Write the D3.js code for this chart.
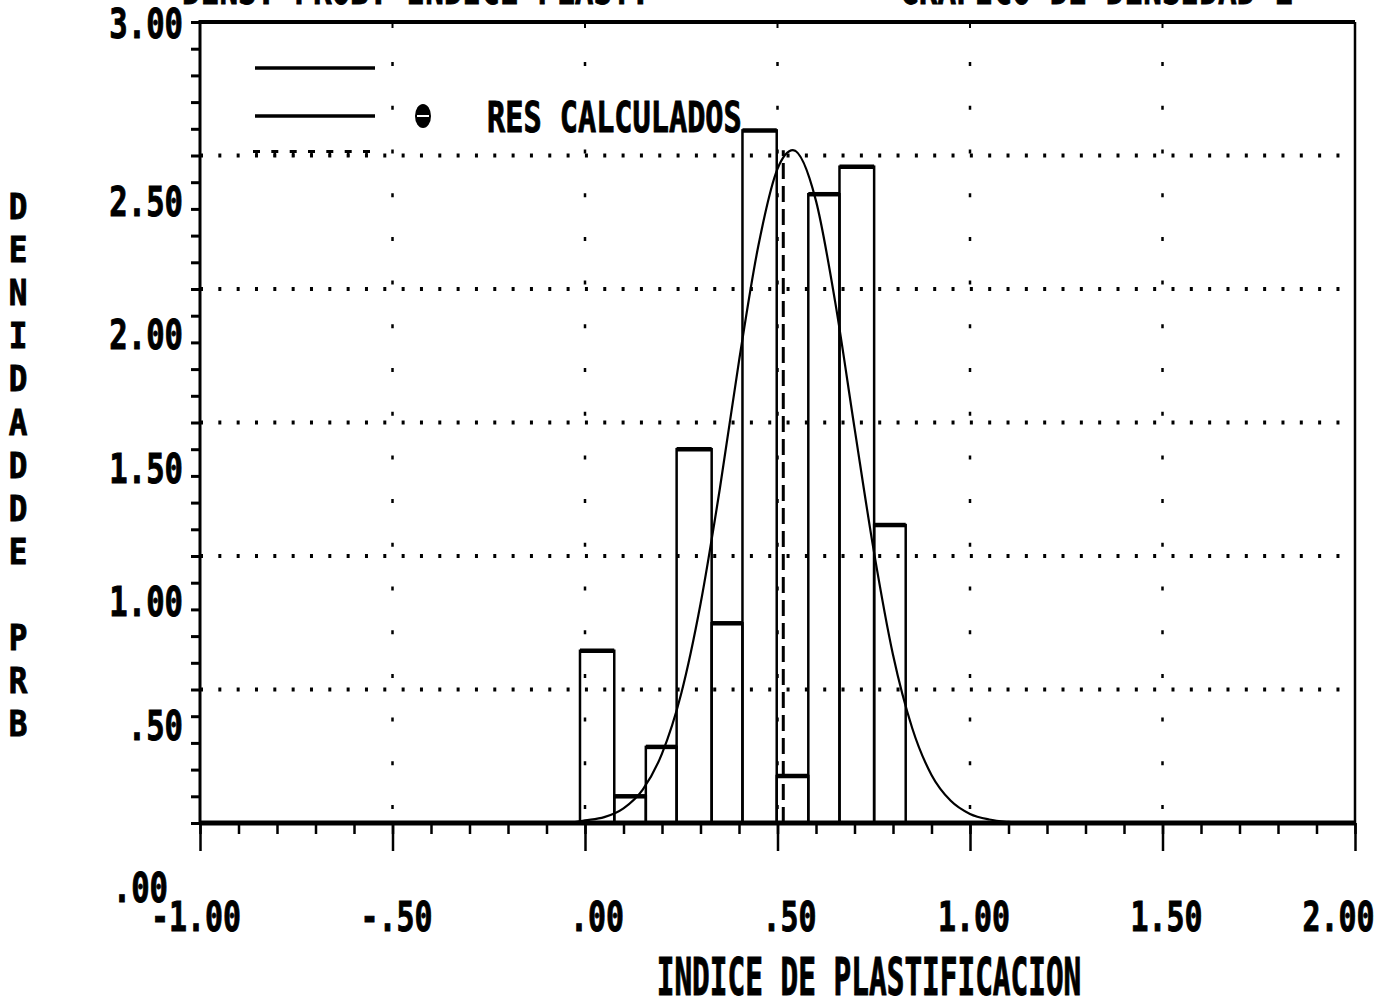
<!DOCTYPE html>
<html><head><meta charset="utf-8">
<script src="https://cdn.jsdelivr.net/npm/d3@7"></script>
<style>html,body{margin:0;padding:0;background:#fff;overflow:hidden}</style>
</head><body><svg id="chart" width="1384" height="1008"></svg>
<script>
// ---------- data ----------
const binEdges = [-0.013, 0.076, 0.158, 0.238, 0.329, 0.409, 0.498, 0.580, 0.661, 0.751, 0.833];
const binValues = [0.645, 0.10, 0.285, 1.40, 0.748, 2.594, 0.176, 2.355, 2.458, 1.116];
const curveX = [-1.00, -0.05, 0.00, 0.05, 0.10, 0.15, 0.20, 0.25, 0.30, 0.35, 0.40, 0.45, 0.50, 0.54, 0.60, 0.65, 0.70, 0.75, 0.80, 0.85, 0.90, 0.95, 1.00, 1.05, 1.10, 1.15, 2.00];
const curveY = [0.000, 0.000, 0.010, 0.022, 0.055, 0.125, 0.260, 0.485, 0.820, 1.250, 1.730, 2.160, 2.450, 2.520, 2.330, 1.950, 1.480, 1.020, 0.630, 0.355, 0.180, 0.083, 0.034, 0.013, 0.004, 0.000, 0.000];
const meanValue = 0.515;
const peakValue = 2.52;
const xTickValues = [-1, -0.5, 0, 0.5, 1, 1.5, 2];
const xTickLabels = ["-1.00", "-.50", ".00", ".50", "1.00", "1.50", "2.00"];
const yTickValues = [0, 0.5, 1, 1.5, 2, 2.5, 3];
const yTickLabels = [".00", ".50", "1.00", "1.50", "2.00", "2.50", "3.00"];
const xGridValues = [-0.5, 0, 0.5, 1, 1.5];
const yGridValues = [0.5, 1, 1.5, 2, 2.5];
const xTitle = "INDICE DE PLASTIFICACION";
const yTitleLetters = ["D","E","N","I","D","A","D","D","E"," ","P","R","B"];
const legendLabels = ["", "RES CALCULADOS", ""];
const topTitleParts = ["DENS. PROB. INDICE PLAST.", "GRAFICO DE DENSIDAD 1"];

// ---------- setup ----------
const svg = d3.select("#chart");
const x = d3.scaleLinear().domain([-1, 2]).range([200, 1355]);
const y = d3.scaleLinear().domain([0, 3]).range([823, 22]);
const FONT = "'DejaVu Sans Mono', monospace";

function label(g, str, px, py, o) {
  return g.append("text")
    .attr("transform", `translate(${px},${py}) scale(${o.sx},${o.sy || 1})`)
    .attr("text-anchor", o.anchor || "middle")
    .attr("font-family", FONT).attr("font-weight", "bold")
    .attr("font-size", o.size).attr("fill", "#000")
    .attr("stroke", "#000").attr("stroke-width", o.sw == null ? 0.8 : o.sw)
    .text(str);
}

const g = svg.append("g");

// ---------- top (clipped) title ----------
label(g, topTitleParts[0], 182, 4, {size: 42, sx: 0.74, anchor: "start"});
label(g, topTitleParts[1], 900, 4, {size: 42, sx: 0.74, anchor: "start"});

// ---------- grid ----------
const grid = g.append("g");
grid.selectAll("line.hg").data(yGridValues).join("line").attr("class", "hg")
  .attr("x1", x(-1)).attr("x2", x(2)).attr("y1", d => y(d)).attr("y2", d => y(d))
  .attr("stroke", "#000").attr("stroke-width", 4).attr("stroke-dasharray", "3,15.33");
grid.selectAll("line.vg").data(xGridValues).join("line").attr("class", "vg")
  .attr("x1", d => x(d)).attr("x2", d => x(d)).attr("y1", y(0)).attr("y2", y(3))
  .attr("stroke", "#000").attr("stroke-width", 2.5)
  .attr("stroke-dasharray", "4,39.7").attr("stroke-dashoffset", -14);

// ---------- histogram bars ----------
const bars = g.append("g");
const binData = binValues.map((v, i) => ({x0: binEdges[i], x1: binEdges[i + 1], v}));
bars.selectAll("rect").data(binData).join("rect")
  .attr("x", d => x(d.x0)).attr("width", d => x(d.x1) - x(d.x0))
  .attr("y", d => y(d.v)).attr("height", d => y(0) - y(d.v))
  .attr("fill", "none").attr("stroke", "#000").attr("stroke-width", 2.5);
bars.selectAll("line.top").data(binData).join("line").attr("class", "top")
  .attr("x1", d => x(d.x0)).attr("x2", d => x(d.x1))
  .attr("y1", d => y(d.v)).attr("y2", d => y(d.v))
  .attr("stroke", "#000").attr("stroke-width", 4.5);

// ---------- mean dashed line ----------
g.append("line")
  .attr("x1", x(meanValue)).attr("x2", x(meanValue))
  .attr("y1", y(0)).attr("y2", y(peakValue))
  .attr("stroke", "#000").attr("stroke-width", 3).attr("stroke-dasharray", "16,7");

// ---------- normal curve ----------
const curvePts = curveX.map((v, i) => [v, curveY[i]]);
g.append("path").datum(curvePts)
  .attr("d", d3.line().x(d => x(d[0])).y(d => y(d[1])).curve(d3.curveMonotoneX))
  .attr("fill", "none").attr("stroke", "#000").attr("stroke-width", 2.2);

// ---------- axes / frame ----------
const frame = g.append("g").attr("stroke", "#000");
frame.append("line").attr("x1", x(-1)).attr("x2", x(2)).attr("y1", y(3)).attr("y2", y(3)).attr("stroke-width", 4);
frame.append("line").attr("x1", x(2)).attr("x2", x(2)).attr("y1", y(3)).attr("y2", y(0)).attr("stroke-width", 2.5);
frame.append("line").attr("x1", x(-1)).attr("x2", x(-1)).attr("y1", y(3) - 2).attr("y2", y(0)).attr("stroke-width", 3);
frame.append("line").attr("x1", x(-1)).attr("x2", x(2)).attr("y1", y(0)).attr("y2", y(0)).attr("stroke-width", 5);

// top border little ticks
frame.selectAll("line.tt").data(xGridValues).join("line").attr("class", "tt")
  .attr("x1", d => x(d)).attr("x2", d => x(d)).attr("y1", y(3)).attr("y2", y(3) + 6).attr("stroke-width", 2);

// x axis ticks (minor + major) via d3 axes
const xMinor = d3.axisBottom(x).ticks(30).tickSize(11).tickFormat("");
const xMajor = d3.axisBottom(x).tickValues(xTickValues).tickSize(28).tickFormat("");
const gxm = g.append("g").attr("transform", `translate(0,${y(0)})`).call(xMinor);
const gxM = g.append("g").attr("transform", `translate(0,${y(0)})`).call(xMajor);
[gxm, gxM].forEach(a => { a.select(".domain").remove(); a.selectAll("line").attr("stroke", "#000").attr("stroke-width", 2.5); });

// y axis ticks
const yMinor = d3.axisLeft(y).ticks(30).tickSize(9).tickFormat("");
const gym = g.append("g").attr("transform", `translate(${x(-1)},0)`).call(yMinor);
gym.select(".domain").remove();
gym.selectAll("line").attr("stroke", "#000").attr("stroke-width", 3);

// ---------- tick labels ----------
const lab = g.append("g");
xTickValues.forEach((v, i) => {
  const s = xTickLabels[i];
  const half = s.length * 9.4;
  let cx = x(v) + (5 - s.length) * 8 - 4;
  cx = Math.min(cx, 1384 - half - 8);
  label(lab, s, cx, 931, {size: 34, sx: 0.88, sy: 1.2});
});
yTickValues.forEach((v, i) => {
  const s = yTickLabels[i];
  let cy;
  if (v === 3) cy = y(v) + 1;
  else if (v === 0) cy = y(v) + 64;
  else if (v < 0.75) cy = y(v) + 35;
  else cy = y(v) + 45;
  const rx = v === 0 ? 168 : 183;
  label(lab, s, rx, cy + 15, {size: 34, sx: 0.9, sy: 1.2, anchor: "end"});
});

// ---------- axis titles ----------
label(lab, xTitle, (655 + 1083) / 2, 995, {size: 40, sx: 0.735, sy: 1.3});
const yt = g.append("g");
yTitleLetters.forEach((ch, i) => {
  if (ch.trim() === "") return;
  label(yt, ch, 18, 205 + i * 43.1 + 14, {size: 31, sx: 1.0, sy: 1.15});
});

// ---------- legend ----------
const leg = g.append("g");
leg.append("line").attr("x1", 255).attr("x2", 375).attr("y1", 68).attr("y2", 68).attr("stroke", "#000").attr("stroke-width", 3.5);
leg.append("line").attr("x1", 255).attr("x2", 375).attr("y1", 116).attr("y2", 116).attr("stroke", "#000").attr("stroke-width", 3.5);
leg.append("ellipse").attr("cx", 423).attr("cy", 116).attr("rx", 8).attr("ry", 12).attr("fill", "#000");
leg.append("line").attr("x1", 417).attr("x2", 429).attr("y1", 116).attr("y2", 116).attr("stroke", "#fff").attr("stroke-width", 2);
label(leg, legendLabels[1], 487, 132, {size: 36, sx: 0.84, sy: 1.2, anchor: "start"});
const tX = [256.5, 274.8, 293.2, 311.5, 329.8, 348.2, 366.5];
tX.forEach(t => {
  leg.append("rect").attr("x", t - 3.5).attr("y", 150).attr("width", 7).attr("height", 3).attr("fill", "#000");
  leg.append("rect").attr("x", t - 1.2).attr("y", 150).attr("width", 2.4).attr("height", 7).attr("fill", "#000");
});
</script>
</body></html>
